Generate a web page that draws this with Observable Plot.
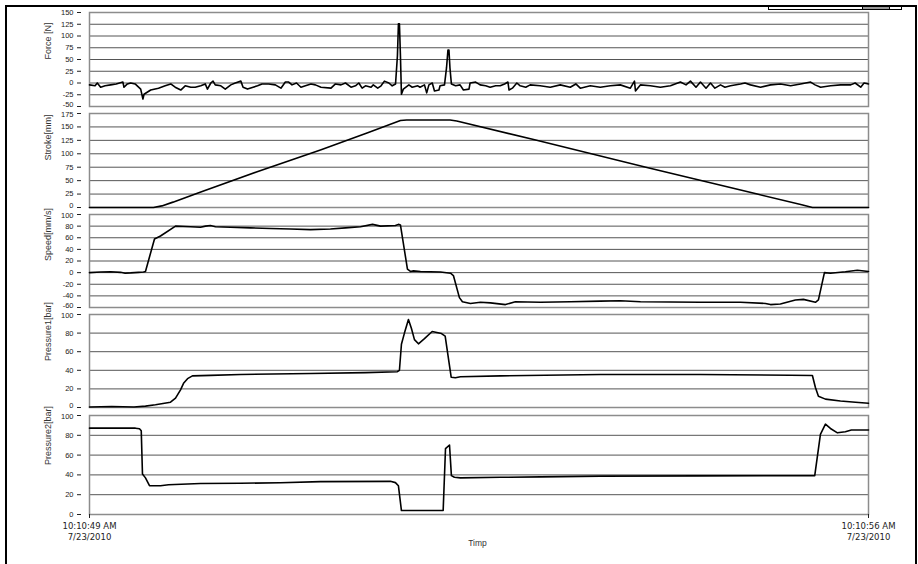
<!DOCTYPE html>
<html>
<head>
<meta charset="utf-8">
<script src="https://cdn.jsdelivr.net/npm/d3@7"></script>
<script src="https://cdn.jsdelivr.net/npm/@observablehq/plot@0.6"></script>
<style>
  html, body { margin: 0; padding: 0; background: #fff; }
  #wrap { position: relative; width: 918px; height: 564px; overflow: hidden; background: #fff; }
  #wrap svg { position: absolute; left: 0; top: 0; }
  #outer { position: absolute; left: 5px; top: 5px; width: 908px; height: 620px;
           border-left: 2px solid #000; border-top: 2px solid #000; border-right: 2px solid #000; }
  #tab { position: absolute; left: 768px; top: 6px; width: 132px; height: 2px; border: 1px solid #000; background: #fff; }
  #tab2 { position: absolute; left: 862px; top: 6px; width: 26px; height: 2px; border: 1px solid #000; background: #999; }
</style>
</head>
<body>
<div id="wrap">
  <div id="outer"></div>
  <div id="tab"></div>
  <div id="tab2"></div>
</div>
<script>
// time offsets in seconds from 10:10:49 AM
const xTicks = [0, 7];
const xTickLabels = ["10:10:49 AM\n7/23/2010", "10:10:56 AM\n7/23/2010"];
const xLabel = "Timp";

const forceLabel = "Force [N]";
const forceTicks = [-50, -25, 0, 25, 50, 75, 100, 125, 150];
const force = [
[0,-4],[0.05,-6],[0.07,0],[0.10,-9],[0.14,-6],[0.19,-4],[0.24,-2],[0.30,2],[0.31,-9],[0.34,-2],[0.37,0],[0.41,-2],[0.46,-13],[0.48,-34],[0.49,-24],[0.55,-15],[0.62,-11],[0.68,-6],[0.73,-2],[0.77,-9],[0.82,-15],[0.86,-6],[0.91,-9],[0.95,-9],[1.00,-6],[1.04,-2],[1.06,-13],[1.09,0],[1.11,4],[1.13,-4],[1.18,-6],[1.22,-13],[1.27,-4],[1.31,0],[1.36,4],[1.38,-9],[1.42,-13],[1.47,-9],[1.51,-6],[1.55,-2],[1.61,-2],[1.67,-4],[1.72,-11],[1.76,2],[1.79,2],[1.82,-4],[1.86,0],[1.90,-9],[1.94,-6],[1.99,-2],[2.03,-4],[2.08,-9],[2.17,-11],[2.21,-2],[2.26,-4],[2.30,0],[2.35,-9],[2.39,-6],[2.42,0],[2.45,-11],[2.48,-6],[2.53,-9],[2.55,-4],[2.59,-11],[2.62,-6],[2.65,4],[2.69,0],[2.72,-6],[2.75,-2],[2.767,58],[2.776,126],[2.785,126],[2.794,58],[2.803,-24],[2.82,-13],[2.87,-4],[2.90,-9],[2.95,-6],[2.97,-9],[3.01,-4],[3.03,-21],[3.05,-4],[3.08,0],[3.10,-17],[3.14,-15],[3.15,-6],[3.19,-4],[3.208,32],[3.221,70],[3.230,70],[3.239,32],[3.252,-2],[3.29,-6],[3.33,-4],[3.36,-15],[3.41,-13],[3.42,0],[3.47,2],[3.51,-4],[3.56,-6],[3.60,-9],[3.65,-6],[3.69,-6],[3.73,-2],[3.76,2],[3.77,-15],[3.80,-11],[3.84,0],[3.87,-6],[3.92,-9],[3.96,-4],[4.05,-6],[4.14,-9],[4.23,-4],[4.32,-9],[4.37,-2],[4.41,-11],[4.50,-6],[4.59,-9],[4.68,-6],[4.77,-4],[4.86,-11],[4.897,4],[4.906,-17],[4.95,-4],[5.04,-6],[5.13,-9],[5.22,-6],[5.31,2],[5.36,-4],[5.40,4],[5.45,-9],[5.49,2],[5.54,-11],[5.58,0],[5.62,-11],[5.67,-4],[5.71,-9],[5.76,-6],[5.85,-2],[5.89,0],[5.94,-4],[6.03,-9],[6.12,-4],[6.21,-2],[6.30,-6],[6.39,-2],[6.48,2],[6.52,-4],[6.57,-9],[6.66,-6],[6.75,-4],[6.84,-4],[6.88,0],[6.93,-9],[6.96,0],[7.00,-2]
];

const strokeLabel = "Stroke[mm]";
const strokeTicks = [0, 25, 50, 75, 100, 125, 150, 175];
const stroke = [
[0,0],[0.575,0],[0.65,3],[0.75,10],[1.0,29],[1.5,66],[2.075,107],[2.5,139],[2.794,162],[2.85,163],[3.24,163],[3.3,161],[4.0,126],[5.0,75],[6.0,25],[6.4,5],[6.496,0],[7,0]
];

const speedLabel = "Speed[mm/s]";
const speedTicks = [-60, -40, -20, 0, 20, 40, 60, 80, 100];
const speed = [
[0,0],[0.10,1],[0.19,1.5],[0.28,0.5],[0.32,-1],[0.37,-0.5],[0.44,0.5],[0.485,1],[0.503,2],[0.584,58],[0.638,63],[0.773,80],[0.907,79],[0.997,78],[1.042,80],[1.087,81],[1.132,79],[1.267,78],[1.447,77],[1.626,76],[1.806,75],[1.986,74],[2.165,75],[2.30,77],[2.435,79],[2.543,83],[2.615,80],[2.749,81],[2.776,83],[2.794,82],[2.857,6],[2.884,2],[2.911,3],[2.974,2],[3.154,1],[3.244,-1],[3.27,-5],[3.324,-43],[3.351,-50],[3.423,-53],[3.513,-51],[3.603,-52],[3.738,-55],[3.827,-50],[4.052,-51],[4.322,-50],[4.591,-49],[4.771,-48.5],[4.951,-50],[5.22,-50.5],[5.49,-51],[5.849,-51],[6.074,-53],[6.119,-55],[6.208,-54],[6.343,-47],[6.415,-46],[6.523,-51],[6.55,-47],[6.604,0],[6.658,-1],[6.792,1.5],[6.90,4],[7,2]
];

const p1Label = "Pressure1[bar]";
const p1Ticks = [0, 20, 40, 60, 80, 100];
const pressure1 = [
[0,0.5],[0.2,1],[0.4,0.5],[0.503,1.5],[0.593,3],[0.728,5.7],[0.773,10],[0.818,19],[0.845,26],[0.881,31],[0.925,34],[1.087,34.5],[1.357,35.5],[1.986,36.5],[2.48,37.5],[2.767,38.5],[2.785,40],[2.803,68],[2.83,80],[2.866,94.6],[2.893,85],[2.92,73],[2.956,68.5],[3.01,74],[3.079,81.7],[3.163,79.5],[3.196,76.7],[3.25,32.6],[3.288,32],[3.333,33],[3.693,34],[4.591,35.5],[5.49,35.5],[6.298,34.7],[6.496,34.4],[6.523,21.5],[6.55,12],[6.613,9],[6.748,7],[6.883,5.7],[7,4.6]
];

const p2Label = "Pressure2[bar]";
const p2Ticks = [0, 20, 40, 60, 80, 100];
const pressure2 = [
[0,87.2],[0.413,87.2],[0.449,86.6],[0.465,84.6],[0.476,41],[0.503,37],[0.539,29.2],[0.638,29],[0.71,30],[0.997,31.3],[1.357,31.6],[1.716,32],[2.075,33.2],[2.704,33.5],[2.749,32.2],[2.776,29],[2.803,4],[3.178,4],[3.199,66.5],[3.235,70.2],[3.252,39.3],[3.279,37.6],[3.333,37],[3.693,37.6],[4.052,38],[4.591,38.8],[5.49,39],[6.517,39.2],[6.568,81],[6.613,91.3],[6.658,86.9],[6.721,82.5],[6.792,83.6],[6.846,85.3],[7,85.3]
];

const panels = [
  {label: forceLabel, data: force, ticks: forceTicks, top: 12, bottom: 106},
  {label: strokeLabel, data: stroke, ticks: strokeTicks, top: 113, bottom: 207},
  {label: speedLabel, data: speed, ticks: speedTicks, top: 214, bottom: 307},
  {label: p1Label, data: pressure1, ticks: p1Ticks, top: 314, bottom: 407},
  {label: p2Label, data: pressure2, ticks: p2Ticks, top: 415, bottom: 514}
];

const W = 918, H = 564;
const FONT = "Liberation Sans, Arial, sans-serif";
const wrap = document.getElementById("wrap");

panels.forEach((p, i) => {
  const last = i === panels.length - 1;
  const n = p.ticks.length;
  const lo = p.ticks[0], hi = p.ticks[n - 1];
  const mid = p.ticks.slice(1, n - 1);
  const labelOpts = {x: () => 0, y: d => d, text: d => String(d), frameAnchor: "left", textAnchor: "end",
    dx: -16, fontSize: 7.5, fontFamily: FONT, fill: "#222"};
  const marks = [
    Plot.gridY(p.ticks, {stroke: "#555", strokeOpacity: 1, strokeWidth: 1}),
    Plot.frame({stroke: "#8c8c8c", strokeWidth: 1.5}),
    Plot.line(p.data, {x: d => d[0], y: d => d[1], stroke: "#000", strokeWidth: 1.6}),
    // tick marks only
    Plot.axisY(p.ticks, {tickFormat: () => "", tickSize: 4, tickPadding: 0, dx: -8, color: "#222", label: null}),
    // tick labels (extreme ones nudged apart so adjacent panels don't collide)
    Plot.text(mid, {y: d => d, text: d => String(d), frameAnchor: "left", textAnchor: "end",
      dx: -16, fontSize: 7.5, fontFamily: FONT, fill: "#222"}),
    Plot.text([lo], {y: d => d, text: d => String(d), frameAnchor: "left", textAnchor: "end",
      dx: -16, dy: i < panels.length - 1 ? -1.5 : 0, fontSize: 7.5, fontFamily: FONT, fill: "#222"}),
    Plot.text([hi], {y: d => d, text: d => String(d), frameAnchor: "left", textAnchor: "end",
      dx: -16, dy: i > 0 ? 1.5 : 0, fontSize: 7.5, fontFamily: FONT, fill: "#222"}),
    Plot.text([p.label], {text: d => d, frameAnchor: "left", dx: -41, rotate: -90,
      fontSize: 9, fontFamily: FONT, fill: "#333"})
  ];
  if (last) {
    marks.push(
      Plot.axisX(xTicks, {tickFormat: d => xTickLabels[xTicks.indexOf(d)], tickSize: 4, tickPadding: 3,
        fontSize: 8.5, fontFamily: "DejaVu Sans, Verdana, sans-serif", lineHeight: 1.3, color: "#222", label: null}),
      Plot.text([xLabel], {text: d => d, frameAnchor: "bottom", dy: 31, dx: -1.5,
        fontSize: 8.5, fontFamily: FONT, fill: "#333"})
    );
  }
  const svg = Plot.plot({
    width: W, height: H,
    marginLeft: 89, marginRight: 50, marginTop: p.top, marginBottom: H - p.bottom,
    style: {background: "transparent", overflow: "visible"},
    x: {domain: [0, 7], axis: null},
    y: {domain: [lo, hi], axis: null},
    marks
  });
  wrap.appendChild(svg);
});
</script>
</body>
</html>
